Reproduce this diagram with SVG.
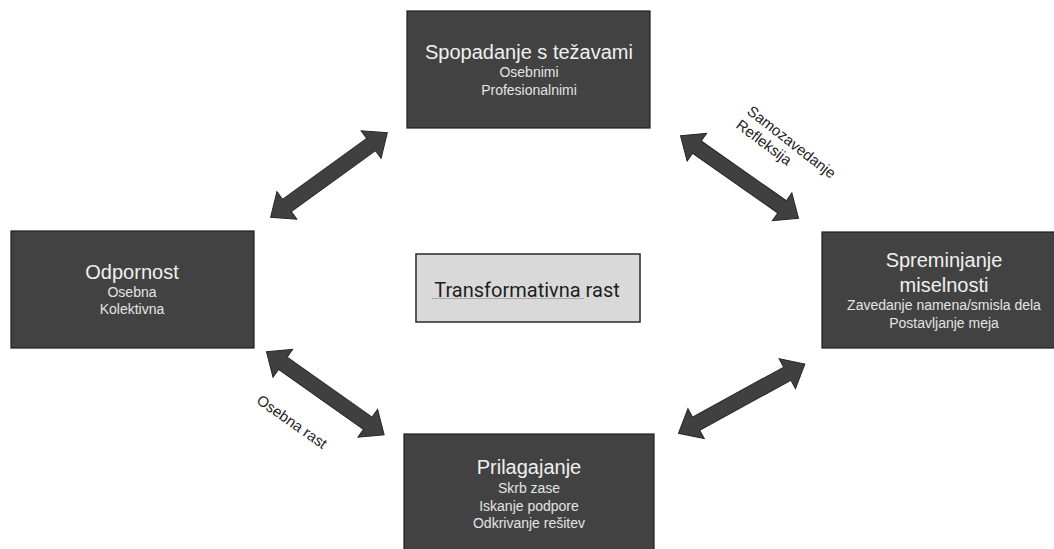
<svg xmlns="http://www.w3.org/2000/svg" width="1054" height="549" viewBox="0 0 1054 549">
<style>
.box{fill:#424242;stroke:#1e1e1e;stroke-width:1.2}
.t{font-family:"Liberation Sans",Arial,sans-serif;fill:#f0f0f0;text-anchor:middle}
.h{font-size:20px}
.s{font-size:14px;fill:#e4e4e4}
.lbl{font-family:"Liberation Sans",Arial,sans-serif;font-size:15px;fill:#1e1e1e}
.arr{fill:#404040;stroke:#262626;stroke-width:1}
</style>
<defs>
<polygon id="dbl" class="arr" points="-72,0 -52,-17 -52,-7.5 52,-7.5 52,-17 72,0 52,17 52,7.5 -52,7.5 -52,17"/>
<pattern id="wave" x="0" y="0" width="4" height="3" patternUnits="userSpaceOnUse">
<path d="M0,2 L1,1 L2,2 L3,1 L4,2" fill="none" stroke="#9a9a9a" stroke-width="0.8"/>
</pattern>
</defs>
<rect width="1054" height="549" fill="#ffffff"/>
<g id="connectors">
<use href="#dbl" transform="translate(329,175) rotate(-35.9)"/>
<use href="#dbl" transform="translate(739.5,177) rotate(35)"/>
<use href="#dbl" transform="translate(325.3,393.3) rotate(35.2)"/>
<use href="#dbl" transform="translate(741.7,398.7) rotate(-28.7)"/>
<text class="lbl" transform="translate(746,113) rotate(38)">Samozavedanje</text>
<text class="lbl" transform="translate(735,127) rotate(37)">Refleksija</text>
<text class="lbl" text-anchor="middle" transform="translate(289,426) rotate(35)">Osebna rast</text>
</g>
<g id="node-top">
<rect class="box" x="407" y="11" width="243" height="117"/>
<text class="t h" x="529" y="59">Spopadanje s težavami</text>
<text class="t s" x="529" y="77">Osebnimi</text>
<text class="t s" x="529" y="95">Profesionalnimi</text>
</g>
<g id="node-left">
<rect class="box" x="11" y="231" width="243" height="117"/>
<text class="t h" x="132" y="279">Odpornost</text>
<text class="t s" x="132" y="297">Osebna</text>
<text class="t s" x="132" y="314">Kolektivna</text>
</g>
<g id="node-right">
<rect class="box" x="822" y="232" width="243" height="116"/>
<text class="t h" x="944" y="267">Spreminjanje</text>
<text class="t h" x="944" y="292">miselnosti</text>
<text class="t s" x="944" y="310">Zavedanje namena/smisla dela</text>
<text class="t s" x="944" y="328">Postavljanje meja</text>
</g>
<g id="node-bottom">
<rect class="box" x="404" y="434" width="250" height="120"/>
<text class="t h" x="529" y="474">Prilagajanje</text>
<text class="t s" x="529" y="493">Skrb zase</text>
<text class="t s" x="529" y="511">Iskanje podpore</text>
<text class="t s" x="529" y="528">Odkrivanje rešitev</text>
</g>
<g id="node-center">
<rect x="416" y="254" width="224" height="68" fill="#d9d9d9" stroke="#2a2a2a" stroke-width="1.5"/>
<text x="527" y="297" font-family="Roboto,'Liberation Sans',sans-serif" font-size="20" fill="#1e1e1e" text-anchor="middle">Transformativna rast</text>
<rect x="432" y="298" width="152" height="3" fill="url(#wave)"/>
</g>
</svg>
